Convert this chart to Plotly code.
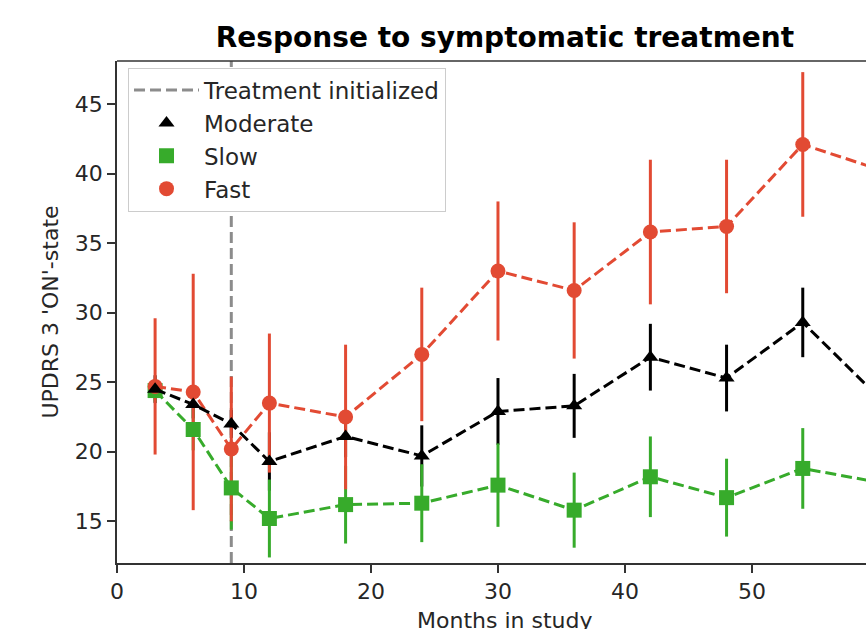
import plotly.graph_objects as go

# ---- data ----
months = [3, 6, 9, 12, 18, 24, 30, 36, 42, 48, 54, 60]
moderate_mean = [24.5, 23.4, 22.0, 19.3, 21.1, 19.7, 22.9, 23.3, 26.8, 25.3, 29.3, 23.9]
moderate_err = [1.0, 1.0, 1.0, 2.1, 1.5, 2.2, 2.4, 2.3, 2.4, 2.4, 2.5, 2.5]
slow_mean = [24.4, 21.6, 17.4, 15.2, 16.2, 16.3, 17.6, 15.8, 18.2, 16.7, 18.8, 17.8]
slow_err = [0.8, 1.5, 3.0, 2.8, 2.8, 2.8, 3.0, 2.7, 2.9, 2.8, 2.9, 2.9]
fast_mean = [24.7, 24.3, 20.2, 23.5, 22.5, 27.0, 33.0, 31.6, 35.8, 36.2, 42.1, 40.3]
fast_err = [4.9, 8.5, 5.2, 5.0, 5.2, 4.8, 5.0, 4.9, 5.2, 4.8, 5.2, 5.0]
treatment_month = 9
x_range = [0, 58.98]
y_range = [12.0, 48.1]
x_ticks = [0, 10, 20, 30, 40, 50]
y_ticks = [15, 20, 25, 30, 35, 40, 45]

FONT = "DejaVu Sans"
RED = "#E24A33"
GREEN = "#37AB2B"
BLACK = "#000000"
GRAY = "#8c8c8c"
DASH = "11px,5px"
TXT = "#262626"
FS = 22

series = {
    "Moderate": (moderate_mean, moderate_err, BLACK, "triangle-up", 14),
    "Slow": (slow_mean, slow_err, GREEN, "square", 15),
    "Fast": (fast_mean, fast_err, RED, "circle", 15),
}

fig = go.Figure()

# treatment line
fig.add_trace(go.Scatter(
    x=[treatment_month, treatment_month], y=y_range, mode="lines",
    line=dict(color=GRAY, width=3, dash=DASH),
    name="Treatment initialized", showlegend=True, hoverinfo="skip"))

# error bars (drawn beneath lines/markers)
for name in ["Moderate", "Slow", "Fast"]:
    mean, err, color, sym, size = series[name]
    fig.add_trace(go.Scatter(
        x=months, y=mean, mode="markers", showlegend=False, hoverinfo="skip",
        marker=dict(color=color, size=0),
        error_y=dict(type="data", array=err, color=color, thickness=3, width=0)))

# dashed lines with markers
for name in ["Slow", "Fast", "Moderate"]:
    mean, err, color, sym, size = series[name]
    fig.add_trace(go.Scatter(
        x=months, y=mean, mode="lines+markers", name=name, showlegend=False,
        line=dict(color=color, width=3, dash=DASH),
        marker=dict(color=color, symbol=sym, size=size)))

# legend entries (marker only)
for name in ["Moderate", "Slow", "Fast"]:
    mean, err, color, sym, size = series[name]
    fig.add_trace(go.Scatter(
        x=[None], y=[None], mode="markers", name=name, showlegend=True,
        marker=dict(color=color, symbol=sym, size=size)))

fig.add_shape(type="line", xref="paper", yref="paper", x0=0, x1=1, y0=1, y1=1,
              line=dict(color="#333333", width=1.5))

fig.add_annotation(text="Months in study", xref="x", yref="paper",
                   x=30.55, y=-0.086, yanchor="top", xanchor="center",
                   showarrow=False, font=dict(family=FONT, size=FS, color=TXT))

fig.update_layout(
    width=866, height=629,
    paper_bgcolor="white", plot_bgcolor="white",
    margin=dict(l=117, r=0, t=61, b=66),
    font=dict(family=FONT, size=FS, color=TXT),
    title=dict(text="<b>Response to symptomatic treatment</b>",
               x=0.518, xref="paper", xanchor="center",
               y=1 - 37 / 629, yref="container", yanchor="middle",
               font=dict(family=FONT, size=28, color="#000000")),
    legend=dict(x=0.0147, y=0.987, xanchor="left", yanchor="top",
                bgcolor="white", bordercolor="#cccccc", borderwidth=1,
                font=dict(family=FONT, size=23, color=TXT),
                itemwidth=65),
    showlegend=True,
)
fig.update_xaxes(range=x_range, tickvals=x_ticks, showgrid=False, zeroline=False,
                 showline=True, linecolor="#333333", linewidth=1.5,
                 ticks="outside", ticklen=8, tickwidth=1.5, tickcolor="#333333",
                 tickfont=dict(family=FONT, size=FS, color=TXT))
fig.update_yaxes(range=y_range, tickvals=y_ticks, showgrid=False, zeroline=False,
                 showline=True, linecolor="#333333", linewidth=1.5,
                 ticks="outside", ticklen=8, tickwidth=1.5, tickcolor="#333333",
                 tickfont=dict(family=FONT, size=FS, color=TXT),
                 title=dict(text="UPDRS 3 'ON'-state", standoff=10,
                            font=dict(family=FONT, size=FS, color=TXT)))

fig.write_html("out.html", config={"displayModeBar": False},
               post_script="document.body.style.margin='0';document.body.style.overflow='hidden';")
